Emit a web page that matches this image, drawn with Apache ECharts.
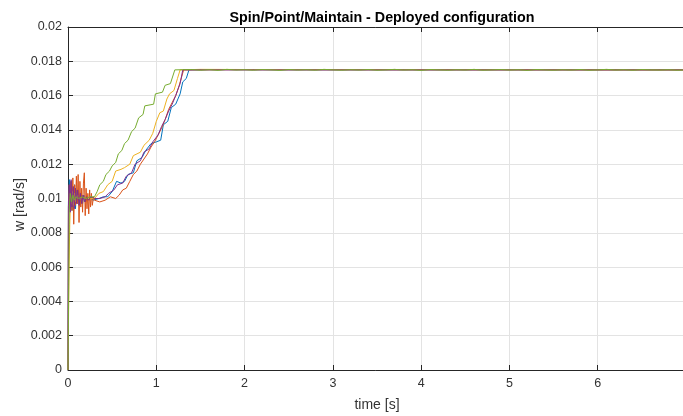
<!DOCTYPE html>
<html>
<head>
<meta charset="utf-8">
<script src="https://cdn.jsdelivr.net/npm/echarts@6/dist/echarts.min.js"></script>
<style>
  html, body { margin: 0; padding: 0; background: #fff; }
  #chart { width: 683px; height: 416px; }
</style>
</head>
<body>
<div id="chart"></div>
<script>
// Angular rate w [rad/s] versus time [s] for each simulation run.
// Each run is a list of [time, w] samples.
const runBlue = [
  [0, 0], [0.005, 0.0098], [0.015, 0.0111], [0.025, 0.0094], [0.035, 0.0110], [0.045, 0.0093],
  [0.055, 0.0106], [0.065, 0.0096], [0.075, 0.0108], [0.085, 0.0094], [0.095, 0.0105],
  [0.11, 0.0097], [0.12, 0.0104], [0.135, 0.0096], [0.15, 0.0103], [0.165, 0.0097],
  [0.18, 0.0102], [0.20, 0.0098], [0.22, 0.0101], [0.24, 0.0099], [0.26, 0.0101],
  [0.28, 0.0099], [0.30, 0.0099], [0.35, 0.0100], [0.40, 0.0101], [0.45, 0.0101],
  [0.50, 0.0104], [0.55, 0.0110], [0.60, 0.0109], [0.64, 0.0110], [0.68, 0.0114],
  [0.74, 0.0115], [0.78, 0.0122], [0.84, 0.0124], [0.88, 0.0128], [0.94, 0.0132],
  [1.00, 0.0133], [1.05, 0.0134], [1.08, 0.0143], [1.13, 0.0145], [1.17, 0.0153],
  [1.22, 0.0155], [1.27, 0.0161], [1.30, 0.0168], [1.34, 0.0170], [1.37, 0.0175],
  [1.6, 0.01752], [2.4, 0.01751], [7.0, 0.0175]
];
const runRed = [
  [0, 0], [0.005, 0.0095], [0.015, 0.0108], [0.025, 0.0096], [0.035, 0.0110], [0.045, 0.0093],
  [0.055, 0.0112], [0.065, 0.0085], [0.075, 0.0108], [0.085, 0.0096], [0.095, 0.0113],
  [0.105, 0.0097], [0.115, 0.0114], [0.125, 0.0086], [0.135, 0.0110], [0.145, 0.0095],
  [0.155, 0.0106], [0.165, 0.0092], [0.175, 0.0109], [0.185, 0.0115], [0.195, 0.0090],
  [0.205, 0.0106], [0.215, 0.0094], [0.225, 0.0103], [0.235, 0.0091], [0.245, 0.0105],
  [0.255, 0.0095], [0.265, 0.0103], [0.275, 0.0096], [0.29, 0.0101], [0.30, 0.0099],
  [0.36, 0.0098], [0.42, 0.0099], [0.48, 0.0101], [0.54, 0.0100], [0.58, 0.0102],
  [0.62, 0.0105], [0.66, 0.0106], [0.70, 0.0110], [0.74, 0.0114], [0.78, 0.0116],
  [0.82, 0.0120], [0.86, 0.0123], [0.90, 0.0126], [0.94, 0.0130], [0.98, 0.0133],
  [1.02, 0.0137], [1.06, 0.0141], [1.10, 0.0146], [1.14, 0.0152], [1.18, 0.0156],
  [1.22, 0.0160], [1.26, 0.0166], [1.31, 0.0175], [1.7, 0.01751], [7.0, 0.0175]
];
const runYellow = [
  [0, 0], [0.012, 0.0060], [0.02, 0.0085], [0.03, 0.0102], [0.04, 0.0097], [0.05, 0.0104],
  [0.06, 0.0096], [0.075, 0.0103], [0.09, 0.0098], [0.11, 0.0102], [0.13, 0.0099],
  [0.16, 0.0101], [0.20, 0.0100], [0.25, 0.0100], [0.30, 0.0100], [0.35, 0.0103],
  [0.40, 0.0104], [0.45, 0.0108], [0.50, 0.0110], [0.54, 0.0116], [0.60, 0.0117],
  [0.64, 0.0118], [0.70, 0.0120], [0.74, 0.0125], [0.82, 0.0127], [0.86, 0.0131],
  [0.92, 0.0134], [0.96, 0.0138], [1.00, 0.0145], [1.04, 0.0150], [1.08, 0.0151],
  [1.12, 0.0158], [1.15, 0.0161], [1.20, 0.0163], [1.24, 0.0170], [1.27, 0.0175],
  [1.5, 0.01753], [2.1, 0.01752], [7.0, 0.0175]
];
const runPurple = [
  [0, 0], [0.005, 0.0096], [0.015, 0.0108], [0.025, 0.0092], [0.035, 0.0111], [0.045, 0.0095],
  [0.06, 0.0107], [0.07, 0.0094], [0.085, 0.0106], [0.095, 0.0097], [0.11, 0.0105],
  [0.125, 0.0096], [0.14, 0.0103], [0.155, 0.0097], [0.17, 0.0102], [0.19, 0.0098],
  [0.21, 0.0101], [0.23, 0.0099], [0.26, 0.0101], [0.30, 0.0100], [0.36, 0.0100],
  [0.42, 0.0101], [0.46, 0.0103], [0.52, 0.0105], [0.56, 0.0108], [0.62, 0.0109],
  [0.66, 0.0113], [0.72, 0.0115], [0.76, 0.0120], [0.82, 0.0122], [0.86, 0.0127],
  [0.92, 0.0129], [0.96, 0.0133], [1.02, 0.0137], [1.06, 0.0142], [1.10, 0.0146],
  [1.14, 0.0151], [1.18, 0.0155], [1.22, 0.0160], [1.27, 0.0167], [1.30, 0.0175],
  [7.0, 0.0175]
];
const runGreen = [
  [0, 0], [0.008, 0.0050], [0.015, 0.0095], [0.025, 0.0103], [0.04, 0.0098], [0.055, 0.0102],
  [0.07, 0.0099], [0.09, 0.0101], [0.12, 0.0100], [0.16, 0.0101], [0.20, 0.0100],
  [0.25, 0.0101], [0.30, 0.0101], [0.33, 0.0104], [0.36, 0.0108], [0.40, 0.0110],
  [0.43, 0.0114], [0.47, 0.0116], [0.50, 0.0119], [0.54, 0.0121], [0.57, 0.0126],
  [0.61, 0.0128], [0.64, 0.0132], [0.68, 0.0134], [0.72, 0.0139], [0.76, 0.0141],
  [0.80, 0.0147], [0.85, 0.0149], [0.87, 0.0154], [0.97, 0.0155], [0.99, 0.0161],
  [1.07, 0.0162], [1.10, 0.0166], [1.16, 0.0167], [1.21, 0.0175], [1.30, 0.01751]
];
// Steady-state portion of the last run, sampled every 0.1 s.
const tailTime = [
  1.4, 1.5, 1.6, 1.7, 1.8, 1.9, 2.0, 2.1, 2.2, 2.3,
  2.4, 2.5, 2.6, 2.7, 2.8, 2.9, 3.0, 3.1, 3.2, 3.3,
  3.4, 3.5, 3.6, 3.7, 3.8, 3.9, 4.0, 4.1, 4.2, 4.3,
  4.4, 4.5, 4.6, 4.7, 4.8, 4.9, 5.0, 5.1, 5.2, 5.3,
  5.4, 5.5, 5.6, 5.7, 5.8, 5.9, 6.0, 6.1, 6.2, 6.3,
  6.4, 6.5, 6.6, 6.7, 6.8, 6.9, 7.0
];
const tailGreen = [
  0.01752, 0.01748, 0.01751, 0.01747, 0.01753, 0.01749, 0.01751, 0.01748, 0.01752, 0.01750,
  0.01747, 0.01752, 0.01749, 0.01751, 0.01748, 0.01753, 0.01750, 0.01748, 0.01751, 0.01749,
  0.01752, 0.01748, 0.01750, 0.01753, 0.01749, 0.01751, 0.01747, 0.01752, 0.01750, 0.01748,
  0.01751, 0.01749, 0.01753, 0.01748, 0.01750, 0.01752, 0.01749, 0.01751, 0.01747, 0.01752,
  0.01750, 0.01748, 0.01751, 0.01749, 0.01752, 0.01748, 0.01750, 0.01753, 0.01749, 0.01751,
  0.01748, 0.01752, 0.01750, 0.01749, 0.01751, 0.01748, 0.01750
];
const xTicks = [0, 1, 2, 3, 4, 5, 6, 7];
const yTicks = [0, 0.002, 0.004, 0.006, 0.008, 0.01, 0.012, 0.014, 0.016, 0.018, 0.02];

const runColors = ['#0072BD', '#D95319', '#EDB120', '#7E2F8E', '#77AC30'];
const FONT = '"Liberation Sans", Arial, Helvetica, sans-serif';
const AXIS = '#262626';
const LABEL = '#333333';
const GRIDLINE = '#e3e3e3';

const greenData = runGreen.concat(tailTime.map((t, i) => [t, tailGreen[i]]));
const runs = [runBlue, runRed, runYellow, runPurple, greenData];

const chart = echarts.init(document.getElementById('chart'), null, { renderer: 'canvas' });

const xCommon = {
  type: 'value',
  min: xTicks[0],
  max: xTicks[xTicks.length - 1],
  interval: 1,
  splitLine: { show: false },
  axisLine: { show: true, onZero: false, lineStyle: { color: AXIS, width: 1 } },
  axisTick: { show: true, inside: true, length: 5, lineStyle: { color: AXIS } }
};

chart.setOption({
  animation: false,
  backgroundColor: '#ffffff',
  title: {
    text: 'Spin/Point/Maintain - Deployed configuration',
    left: 377,
    textAlign: 'center',
    top: 6,
    textStyle: { fontFamily: FONT, fontSize: 14.3, fontWeight: 'bold', color: '#000' }
  },
  // The axes box runs slightly past the right edge of the canvas.
  grid: { left: 68, width: 618, top: 27, height: 343, containLabel: false, outerBoundsMode: 'none' },
  xAxis: [
    Object.assign({}, xCommon, {
      position: 'bottom',
      name: 'time [s]',
      nameLocation: 'middle',
      nameGap: 28,
      nameMoveOverlap: false,
      nameTextStyle: { fontFamily: FONT, fontSize: 14, color: LABEL },
      splitLine: { show: true, lineStyle: { color: GRIDLINE, width: 1 } },
      axisLabel: { fontFamily: FONT, fontSize: 12.5, color: LABEL, margin: 7 }
    }),
    Object.assign({}, xCommon, {
      position: 'top',
      axisLabel: { show: false }
    })
  ],
  yAxis: {
    type: 'value',
    min: yTicks[0],
    max: yTicks[yTicks.length - 1],
    interval: 0.002,
    name: 'w [rad/s]',
    nameLocation: 'middle',
    nameGap: 41,
    nameMoveOverlap: false,
    nameTextStyle: { fontFamily: FONT, fontSize: 14, color: LABEL, padding: [0, 12, 0, 0] },
    axisLine: { show: true, lineStyle: { color: AXIS, width: 1 } },
    axisTick: { show: true, inside: true, length: 5, lineStyle: { color: AXIS } },
    splitLine: { show: true, lineStyle: { color: GRIDLINE, width: 1 } },
    axisLabel: {
      fontFamily: FONT, fontSize: 12.5, color: LABEL, margin: 6,
      formatter: v => String(+v.toFixed(3))
    }
  },
  series: runs.map((d, i) => ({
    type: 'line',
    data: d,
    showSymbol: false,
    symbol: 'none',
    clip: true,
    lineStyle: { color: runColors[i], width: 1 },
    z: 2 + i
  }))
});
</script>
</body>
</html>
